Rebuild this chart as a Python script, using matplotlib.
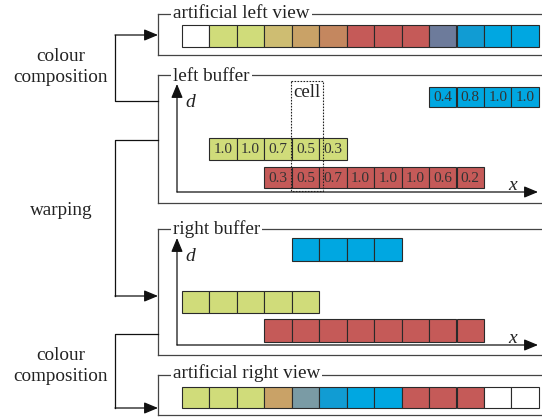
import matplotlib
matplotlib.use("Agg")
import matplotlib.pyplot as plt
from matplotlib.patches import Rectangle

# ---------------- data ----------------
C = {
    "white": "#ffffff", "lime": "#d0dc7a", "khaki": "#cebd72", "tan": "#c9a267",
    "brown": "#c4875f", "red": "#c55a58", "slate": "#6d7b9b", "blue": "#119cd3",
    "cyan": "#00a7e1", "teal": "#7a9ba5",
}
left_view_colors = ["white", "lime", "lime", "khaki", "tan", "brown", "red", "red",
                    "red", "slate", "blue", "cyan", "cyan"]
right_view_colors = ["lime", "lime", "lime", "tan", "teal", "blue", "cyan", "cyan",
                     "red", "red", "red", "white", "white"]

# left buffer rows: (start cell index, alpha values, colour)
left_blue_start, left_blue_vals = 9, ["0.4", "0.8", "1.0", "1.0"]
left_green_start, left_green_vals = 1, ["1.0", "1.0", "0.7", "0.5", "0.3"]
left_red_start, left_red_vals = 3, ["0.3", "0.5", "0.7", "1.0", "1.0", "1.0", "0.6", "0.2"]

# right buffer rows: (start cell index, number of cells)
right_blue_start, right_blue_n = 4, 4
right_green_start, right_green_n = 0, 5
right_red_start, right_red_n = 3, 8

panel_titles = ["artificial left view", "left buffer", "right buffer", "artificial right view"]
side_labels = ["colour\ncomposition", "warping", "colour\ncomposition"]

# ---------------- layout ----------------
W, H = 542, 417
fig = plt.figure(figsize=(W / 100, H / 100), dpi=100)
ax = fig.add_axes([0, 0, 1, 1])
ax.set_xlim(0, W)
ax.set_ylim(H, 0)
ax.axis("off")

SERIF = ["Liberation Serif", "DejaVu Serif"]
FRAME = "#444444"
X0 = 182.0      # first cell column
CW = 27.45      # cell width
AST = "-|>,head_length=0.6,head_width=0.25"


def cells(start, colors, y0, y1, labels=None):
    for i, c in enumerate(colors):
        x = X0 + (start + i) * CW
        ax.add_patch(Rectangle((x, y0), CW, y1 - y0, facecolor=C[c],
                               edgecolor="#2a2a2a", lw=0.8, zorder=3))
        if labels is not None:
            ax.text(x + CW / 2, (y0 + y1) / 2 + 0.5, labels[i], ha="center", va="center",
                    fontsize=11, family=SERIF, color="#333333", zorder=4)


def frame(top, bottom, title, baseline):
    ax.plot([158, W], [top, top], color=FRAME, lw=0.9, zorder=1)
    ax.plot([158, 158], [top, bottom], color=FRAME, lw=0.9, zorder=1)
    ax.plot([158, W], [bottom, bottom], color=FRAME, lw=0.9, zorder=1)
    ax.text(173, baseline, title, ha="left", va="baseline", fontsize=13.8, family=SERIF,
            color="#222222", zorder=2,
            bbox=dict(facecolor="white", edgecolor="none", pad=1.5))


def arrow(x0, y0, x1, y1, ms=14):
    ax.annotate("", xy=(x1, y1), xytext=(x0, y0),
                arrowprops=dict(arrowstyle=AST, color="#111111", lw=0.9,
                                mutation_scale=ms, shrinkA=0, shrinkB=0), zorder=5)


def axes_arrows(yaxis_top, xaxis_y, d_base, x_base):
    arrow(177, xaxis_y, 177, yaxis_top)
    arrow(177, xaxis_y, 538, xaxis_y)
    ax.text(185, d_base, "d", fontsize=14, family=SERIF, style="italic",
            va="baseline", color="#222222")
    ax.text(508, x_base, "x", fontsize=14, family=SERIF, style="italic",
            va="baseline", color="#222222")


# panel 1 : artificial left view
frame(14, 55, panel_titles[0], 17.5)
cells(0, left_view_colors, 25, 47)

# panel 2 : left buffer
frame(75, 203, panel_titles[1], 80.5)
axes_arrows(84, 192, 107, 190)
cells(left_blue_start, ["cyan"] * len(left_blue_vals), 87, 107, left_blue_vals)
cells(left_green_start, ["lime"] * len(left_green_vals), 138, 160, left_green_vals)
cells(left_red_start, ["red"] * len(left_red_vals), 167, 188, left_red_vals)
ax.add_patch(Rectangle((291, 81), 32, 110, facecolor="none", edgecolor="#222222",
                       lw=0.8, ls=(0, (1.5, 1.2)), zorder=6))
ax.text(307, 97, "cell", ha="center", va="baseline", fontsize=13.5, family=SERIF,
        color="#222222", zorder=6)

# panel 3 : right buffer
frame(229, 355, panel_titles[2], 233.5)
axes_arrows(238, 345, 261, 343)
cells(right_blue_start, ["cyan"] * right_blue_n, 238, 261)
cells(right_green_start, ["lime"] * right_green_n, 291, 313)
cells(right_red_start, ["red"] * right_red_n, 319, 342)

# panel 4 : artificial right view
frame(375, 415, panel_titles[3], 378.5)
cells(0, right_view_colors, 387, 408)

# side brackets
BX = 115
def bracket(y_from, y_to):
    ax.plot([158, BX, BX], [y_from, y_from, y_to], color="#111111", lw=0.9, zorder=5)
    arrow(BX, y_to, 158, y_to)

bracket(101, 35)
bracket(140, 296)
bracket(334, 408)

ax.text(61, 61, "colour", ha="center", va="baseline", fontsize=13.8, family=SERIF, color="#222222")
ax.text(61, 82, "composition", ha="center", va="baseline", fontsize=13.8, family=SERIF, color="#222222")
ax.text(61, 215, side_labels[1], ha="center", va="baseline", fontsize=13.8, family=SERIF, color="#222222")
ax.text(61, 360, "colour", ha="center", va="baseline", fontsize=13.8, family=SERIF, color="#222222")
ax.text(61, 381, "composition", ha="center", va="baseline", fontsize=13.8, family=SERIF, color="#222222")

fig.savefig("out.png", dpi=100)
